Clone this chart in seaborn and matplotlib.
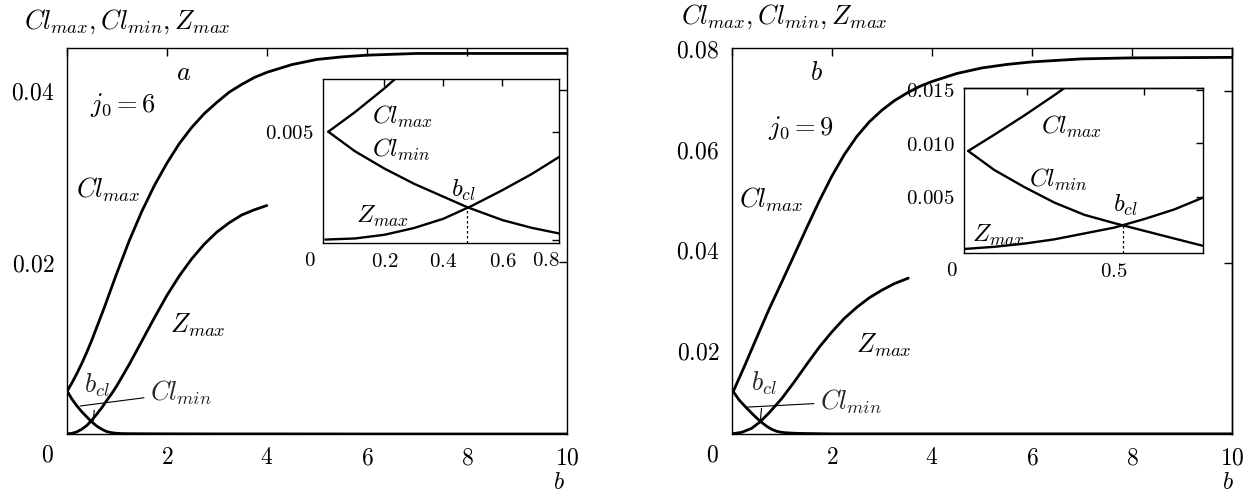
import matplotlib
matplotlib.use("Agg")
import matplotlib.pyplot as plt
import seaborn as sns

# ---------------- data: panel a (j0 = 6) ----------------
b_clmax6 = [0.01, 0.1, 0.2, 0.3, 0.4, 0.5, 0.75, 1.0, 1.25, 1.5, 1.75, 2.0, 2.25, 2.5, 2.75,
            3.0, 3.25, 3.5, 3.75, 4.0, 4.5, 5.0, 5.5, 6.0, 7.0, 8.0, 10.0]
clmax6 = [0.0050, 0.0059, 0.0070, 0.0082, 0.0095, 0.0109, 0.0147, 0.0187, 0.0225, 0.0259,
          0.0289, 0.0315, 0.0338, 0.0357, 0.0373, 0.0386, 0.0398, 0.0407, 0.0415, 0.0421,
          0.0430, 0.0436, 0.0439, 0.0441, 0.0443, 0.0443, 0.0443]
b_clmin6 = [0.01, 0.1, 0.2, 0.3, 0.4, 0.48, 0.6, 0.7, 0.8, 0.9, 1.0, 1.1, 1.2, 1.5, 2.0,
            3.0, 4.0, 6.0, 8.0, 10.0]
clmin6 = [0.0050, 0.0041, 0.0033, 0.0026, 0.0020, 0.00152, 0.00092, 0.00056, 0.00028,
          0.00015, 0.00008, 0.00005, 0.00004, 0.00003, 0.00002, 0.00001, 0.00001, 0.0,
          0.0, 0.0]
b_zmax6 = [0.0, 0.1, 0.2, 0.3, 0.4, 0.5, 0.6, 0.7, 0.8, 0.9, 1.0, 1.25, 1.5, 1.75, 2.0,
           2.25, 2.5, 2.75, 3.0, 3.25, 3.5, 3.75, 4.0]
zmax6 = [0.00002, 0.00007, 0.00024, 0.00055, 0.00098, 0.0016, 0.0023, 0.00305, 0.0039,
         0.0047, 0.0056, 0.0081, 0.0108, 0.0135, 0.0161, 0.0184, 0.0204, 0.0221, 0.0235,
         0.0246, 0.0255, 0.0261, 0.0266]
bcl6 = 0.48
bcl6_val = 0.00152

# ---------------- data: panel b (j0 = 9), main axes ----------------
b_clmax9 = [0.03, 0.25, 0.5, 0.75, 1.0, 1.25, 1.5, 1.75, 2.0, 2.25, 2.5, 2.75, 3.0, 3.25,
            3.5, 3.75, 4.0, 4.5, 5.0, 5.5, 6.0, 7.0, 8.0, 10.0]
clmax9 = [0.0119, 0.0168, 0.0226, 0.0283, 0.0336, 0.0390, 0.0444, 0.0497, 0.0546, 0.0589,
          0.0625, 0.0654, 0.0677, 0.0696, 0.0711, 0.0724, 0.0734, 0.0750, 0.0761, 0.0768,
          0.0773, 0.0779, 0.0781, 0.0782]
b_clmin9 = [0.03, 0.15, 0.3, 0.45, 0.57, 0.7, 0.8, 0.9, 1.0, 1.1, 1.3, 1.6, 2.0, 3.0, 5.0,
            10.0]
clmin9 = [0.0119, 0.0102, 0.0086, 0.0071, 0.0060, 0.0050, 0.0044, 0.0040, 0.0038, 0.0037,
          0.0036, 0.00355, 0.0035, 0.0035, 0.0035, 0.0035]
b_zmax9 = [0.0, 0.2, 0.4, 0.57, 0.75, 1.0, 1.25, 1.5, 1.75, 2.0, 2.25, 2.5, 2.75, 3.0,
           3.25, 3.53]
zmax9 = [0.0035, 0.0038, 0.0046, 0.0059, 0.0077, 0.0105, 0.0138, 0.0173, 0.0207, 0.0237,
         0.0264, 0.0286, 0.0305, 0.0320, 0.0333, 0.0344]
bcl9_main = 0.57
bcl9_main_val = 0.0059

# ---------------- data: panel b inset ----------------
b_clmax9_in = [0.013, 0.1, 0.2, 0.3, 0.36]
clmax9_in = [0.00928, 0.0108, 0.0126, 0.0145, 0.0157]
b_clmin9_in = [0.013, 0.1, 0.2, 0.3, 0.4, 0.5, 0.6, 0.7, 0.795]
clmin9_in = [0.00928, 0.0075, 0.0059, 0.00445, 0.0033, 0.00252, 0.0018, 0.00108, 0.00040]
b_zmax9_in = [0.0, 0.1, 0.2, 0.3, 0.4, 0.5, 0.6, 0.7, 0.795]
zmax9_in = [0.0001, 0.0003, 0.0006, 0.0010, 0.00155, 0.0021, 0.0029, 0.0038, 0.0049]
bcl9_in = 0.53
bcl9_in_val = 0.00232

# ---------------- style ----------------
sns.set_theme(style="white")
plt.rcParams.update({
    "mathtext.fontset": "cm",
    "font.family": ["DejaVu Serif"],
    "axes.edgecolor": "black",
    "axes.linewidth": 1.0,
    "xtick.color": "black",
    "ytick.color": "black",
    "lines.solid_capstyle": "round",
    "lines.solid_joinstyle": "round",
})

W, H = 1258, 492
fig = plt.figure(figsize=(W / 100, H / 100), dpi=100)


def box(l, t, r, b):
    return [l / W, 1 - b / H, (r - l) / W, (b - t) / H]


def ftext(x, y, s, size, ha="center", va="center"):
    fig.text(x / W, 1 - y / H, s, fontsize=size, ha=ha, va=va, color="black")


def curve(ax, b, v, lw):
    sns.lineplot(x=b, y=v, ax=ax, color="black", lw=lw, estimator=None, sort=False)


def style(ax, size, tl, pad):
    for s in ax.spines.values():
        s.set_visible(True)
        s.set_linewidth(1.0)
        s.set_color("black")
    ax.tick_params(direction="in", length=tl, width=1.0, top=True, right=True,
                   labelsize=size, pad=pad, colors="black")
    ax.set_xlabel("")
    ax.set_ylabel("")


MAIN_LW, IN_LW = 2.0, 1.7
TICK_FS, IN_FS, LAB_FS, IN_LAB_FS = 17, 15, 19, 18

# ================= panel a =================
axa = fig.add_axes(box(66.7, 48.3, 567, 434))
curve(axa, b_clmax6, clmax6, MAIN_LW)
curve(axa, b_clmin6, clmin6, MAIN_LW)
curve(axa, b_zmax6, zmax6, MAIN_LW)
axa.set_xlim(0, 10)
axa.set_ylim(0, 0.0449)
style(axa, TICK_FS, 6, 9)
axa.set_xticks([0, 2, 4, 6, 8, 10], ["", "$2$", "$4$", "$6$", "$8$", "$10$"])
axa.set_yticks([0.02, 0.04], ["$0.02$", "$0.04$"])
axa.annotate("$Cl_{min}$", xy=(0.27, 0.00326), xytext=(150, H - 393),
             textcoords="figure pixels", fontsize=LAB_FS, ha="left", va="center",
             arrowprops=dict(arrowstyle="-", lw=0.8, color="black", shrinkA=2, shrinkB=0))
axa.annotate("$b_{cl}$", xy=(bcl6 + 0.05, bcl6_val), xytext=(96.7, H - 385),
             textcoords="figure pixels", fontsize=LAB_FS, ha="center", va="center",
             arrowprops=dict(arrowstyle="-", lw=0.8, color="black", shrinkA=6, shrinkB=0))

ftext(127, 22, "$Cl_{max}, Cl_{min}, Z_{max}$", LAB_FS)
ftext(47, 455, "$0$", TICK_FS)
ftext(559, 489, "$b$", 17, va="baseline")
ftext(184, 73, "$a$", LAB_FS)
ftext(123, 105, "$j_0 = 6$", LAB_FS)
ftext(108, 190, "$Cl_{max}$", LAB_FS)
ftext(198, 325, "$Z_{max}$", LAB_FS)

# inset a
ina = fig.add_axes(box(322.7, 79.3, 559.3, 242.7))
ina.set_facecolor("white")
curve(ina, b_clmax6, clmax6, IN_LW)
curve(ina, b_clmin6, clmin6, IN_LW)
curve(ina, b_zmax6, zmax6, IN_LW)
ina.set_xlim(-0.009, 0.793)
ina.set_ylim(-0.000125, 0.00742)
style(ina, IN_FS, 5, 7)
ina.set_xticks([0.2, 0.4, 0.6], ["$0.2$", "$0.4$", "$0.6$"])
ina.set_yticks([0.0, 0.005], ["", "$0.005$"])
ina.vlines(bcl6, -0.000125, bcl6_val, colors="black", linestyles=(0, (2, 2)), lw=0.9)
ftext(310, 260, "$0$", IN_FS)
ftext(546, 260, "$0.8$", IN_FS)
ftext(402.5, 116.7, "$Cl_{max}$", IN_LAB_FS)
ftext(401.5, 150, "$Cl_{min}$", IN_LAB_FS)
ftext(463.5, 190, "$b_{cl}$", IN_LAB_FS)
ftext(382.5, 216, "$Z_{max}$", IN_LAB_FS)

# ================= panel b =================
axb = fig.add_axes(box(731.7, 48.3, 1232, 434))
curve(axb, b_clmax9, clmax9, MAIN_LW)
curve(axb, b_clmin9, clmin9, MAIN_LW)
curve(axb, b_zmax9, zmax9, MAIN_LW)
axb.set_xlim(0, 10)
axb.set_ylim(0.00347, 0.08)
style(axb, TICK_FS, 6, 9)
axb.tick_params(right=False)
axb.set_xticks([0, 2, 4, 6, 8, 10], ["", "$2$", "$4$", "$6$", "$8$", "$10$"])
axb.set_yticks([0.02, 0.04, 0.06, 0.08], ["$0.02$", "$0.04$", "$0.06$", "$0.08$"])
right_ticks9 = [0.0374, 0.0716]
sec = axb.secondary_yaxis("right")
sec.set_yticks(right_ticks9, ["", ""])
sec.tick_params(direction="in", length=6, width=1.0, colors="black")
sec.spines["right"].set_linewidth(1.0)
axb.annotate("$Cl_{min}$", xy=(0.3, 0.0088), xytext=(820, H - 401.7),
             textcoords="figure pixels", fontsize=LAB_FS, ha="left", va="center",
             arrowprops=dict(arrowstyle="-", lw=0.8, color="black", shrinkA=2, shrinkB=0))
axb.annotate("$b_{cl}$", xy=(bcl9_main, bcl9_main_val), xytext=(764, H - 383),
             textcoords="figure pixels", fontsize=LAB_FS, ha="center", va="center",
             arrowprops=dict(arrowstyle="-", lw=0.8, color="black", shrinkA=6, shrinkB=0))

ftext(784, 17, "$Cl_{max}, Cl_{min}, Z_{max}$", LAB_FS)
ftext(712.7, 455, "$0$", TICK_FS)
ftext(1228, 489, "$b$", 17, va="baseline")
ftext(816, 73, "$b$", LAB_FS)
ftext(801, 128, "$j_0 = 9$", LAB_FS)
ftext(771, 200, "$Cl_{max}$", LAB_FS)
ftext(884, 345, "$Z_{max}$", LAB_FS)

# inset b
inb = fig.add_axes(box(964.3, 88.3, 1202.7, 252.7))
inb.set_facecolor("white")
curve(inb, b_clmax9_in, clmax9_in, IN_LW)
curve(inb, b_clmin9_in, clmin9_in, IN_LW)
curve(inb, b_zmax9_in, zmax9_in, IN_LW)
inb.set_xlim(0, 0.795)
inb.set_ylim(-0.00025, 0.01515)
style(inb, IN_FS, 5, 7)
inb.tick_params(top=False)
inb.set_xticks([0.5], ["$0.5$"])
inb.set_yticks([0.005, 0.010, 0.015], ["$0.005$", "$0.010$", "$0.015$"])
top_ticks9 = [0.21, 0.6]
sect = inb.secondary_xaxis("top")
sect.set_xticks(top_ticks9, ["", ""])
sect.tick_params(direction="in", length=5, width=1.0, colors="black")
inb.vlines(bcl9_in, -0.00025, bcl9_in_val, colors="black", linestyles=(0, (2, 2)), lw=0.9)
ftext(951.7, 270, "$0$", IN_FS)
ftext(1071.7, 126.7, "$Cl_{max}$", IN_LAB_FS)
ftext(1058.3, 180, "$Cl_{min}$", IN_LAB_FS)
ftext(1125, 205, "$b_{cl}$", IN_LAB_FS)
ftext(998, 235, "$Z_{max}$", IN_LAB_FS)

fig.savefig("out.png", dpi=100, facecolor="white")
